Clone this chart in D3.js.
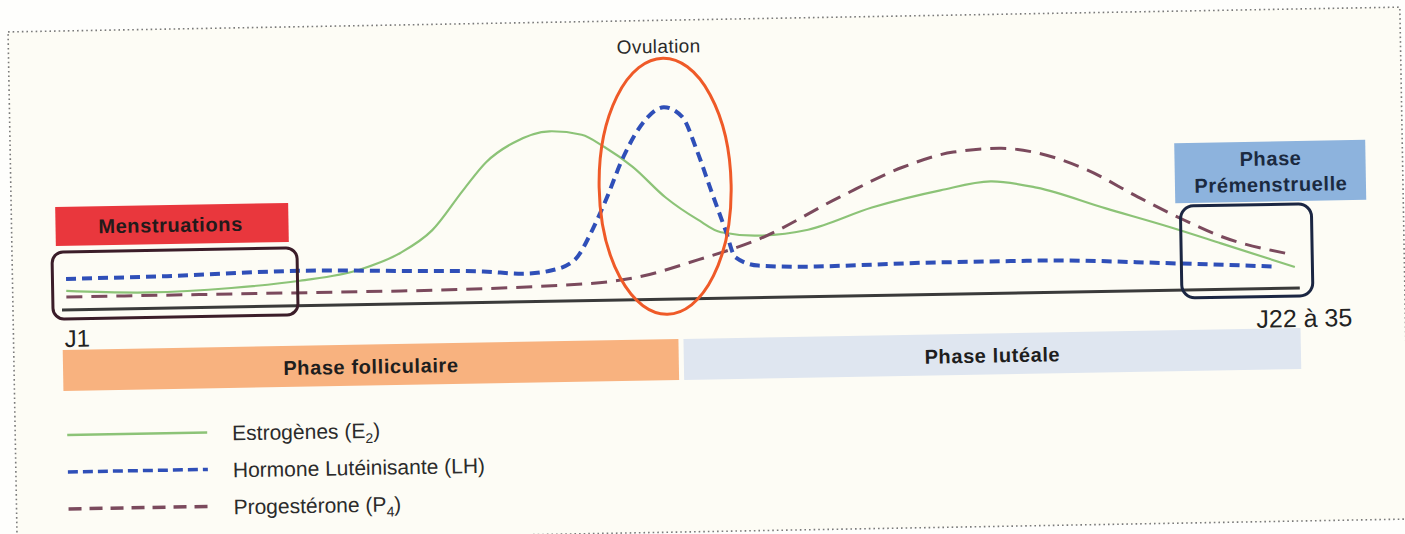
<!DOCTYPE html>
<html>
<head>
<meta charset="utf-8">
<script src="https://cdn.jsdelivr.net/npm/d3@7"></script>
<style>
  body { margin: 0; background: #fefdf9; }
  svg { display: block; font-family: "Liberation Sans", Arial, sans-serif; }
</style>
</head>
<body>
<div id="chart"></div>
<script>
// données (jours du cycle / niveau hormonal relatif)
var e2Days = [1.1, 2.9, 4.7, 6.2, 7.5, 8.4, 9.1, 9.8, 10.3, 10.9, 11.7, 12.4, 12.9, 13.5, 14.2, 14.9, 15.4, 16.2, 17.3, 18.7, 20.2, 21.3, 22.3, 23.8, 25.2, 26.3, 27.9];
var e2Levels = [19, 16, 19, 25, 35, 51, 73, 113, 140, 159, 170, 166, 153, 133, 102, 79, 66, 62, 67, 88, 104, 112, 105, 83, 63, 46, 21];

var lhDays = [1.1, 3.3, 6.2, 8.4, 10.2, 11.1, 11.7, 12.2, 12.6, 12.9, 13.3, 13.8, 14.2, 14.6, 14.9, 15.2, 15.5, 15.7, 16.2, 17.3, 20.2, 22.3, 25.2, 27.4];
var lhLevels = [31, 32, 35, 33, 31, 28, 31, 41, 71, 100, 143, 180, 192, 182, 149, 108, 68, 41, 32, 30, 32, 32, 27, 22];

var p4Days = [1.1, 4.0, 8.4, 12.0, 13.5, 14.9, 16.2, 18.0, 19.4, 20.5, 21.5, 22.3, 23.4, 24.5, 25.5, 26.3, 27.7];
var p4Levels = [13, 13, 13, 16, 22, 39, 58, 99, 128, 142, 145, 140, 122, 94, 70, 53, 35];

var seriesNames = ["Estrogènes (E", "Hormone Lutéinisante (LH)", "Progestérone (P"];
var seriesSubs = ["2", "", "4"];
var phaseNames = ["Phase folliculaire", "Phase lutéale"];
var phaseDays = [[1, 14.43], [14.54, 28]];
var dayLabels = ["J1", "J22 à 35"];

var width = 1405, height = 534;

var svg = d3.select("#chart").append("svg")
  .attr("width", width)
  .attr("height", height);

svg.append("rect").attr("width", width).attr("height", height).attr("fill", "#fefefc");

// la page scannée est un peu penchée
var g = svg.append("g").attr("transform", "rotate(-1.02, 62, 310)");

// cadre pointillé
g.append("rect")
  .attr("x", 13).attr("y", 31)
  .attr("width", 1392).attr("height", 512)
  .attr("fill", "#fdfcf5")
  .attr("stroke", "#7a7a7a")
  .attr("stroke-width", 1.6)
  .attr("stroke-dasharray", "1.6,3");

var x = d3.scaleLinear().domain([1, 28]).range([62, 1300]);
var y = d3.scaleLinear().domain([0, 200]).range([310, 110]);

// barres des phases
var phaseColors = ["#f8b27f", "#dfe6f0"];
phaseDays.forEach(function (p, i) {
  g.append("rect")
    .attr("x", x(p[0]))
    .attr("y", 350)
    .attr("width", x(p[1]) - x(p[0]))
    .attr("height", 41)
    .attr("fill", phaseColors[i]);
  g.append("text")
    .attr("x", (x(p[0]) + x(p[1])) / 2)
    .attr("y", 372)
    .attr("dy", "0.35em")
    .attr("text-anchor", "middle")
    .attr("font-size", 20)
    .attr("font-weight", "bold")
    .attr("letter-spacing", 0.6)
    .attr("fill", "#1e1e1e")
    .text(phaseNames[i]);
});

// Menstruations
g.append("rect")
  .attr("x", 57).attr("y", 207).attr("width", 233).attr("height", 39)
  .attr("fill", "#e9373d");
g.append("text")
  .attr("x", 172).attr("y", 227).attr("dy", "0.35em")
  .attr("text-anchor", "middle").attr("font-size", 20).attr("font-weight", "bold")
  .attr("letter-spacing", 0.6)
  .attr("fill", "#231a1a")
  .text("Menstruations");

// Phase Prémenstruelle
g.append("rect")
  .attr("x", 1177).attr("y", 163).attr("width", 191).attr("height", 60)
  .attr("fill", "#8db3dd");
g.append("text")
  .attr("x", 1273).attr("y", 180).attr("dy", "0.35em")
  .attr("text-anchor", "middle").attr("font-size", 20).attr("font-weight", "bold")
  .attr("letter-spacing", 0.6)
  .attr("fill", "#1b2a40")
  .text("Phase");
g.append("text")
  .attr("x", 1273).attr("y", 206).attr("dy", "0.35em")
  .attr("text-anchor", "middle").attr("font-size", 20).attr("font-weight", "bold")
  .attr("letter-spacing", 0.6)
  .attr("fill", "#1b2a40")
  .text("Prémenstruelle");

// axe des jours
g.append("line")
  .attr("x1", x(1)).attr("x2", x(28))
  .attr("y1", y(0)).attr("y2", y(0))
  .attr("stroke", "#3a3a3a").attr("stroke-width", 3);

g.append("text").attr("x", 64).attr("y", 347)
  .attr("font-size", 24).attr("fill", "#222").text(dayLabels[0]);
g.append("text").attr("x", 1256).attr("y", 349)
  .attr("font-size", 25).attr("fill", "#222").text(dayLabels[1]);

// courbes
var line = d3.line()
  .x(function (d) { return x(d[0]); })
  .y(function (d) { return y(d[1]); })
  .curve(d3.curveMonotoneX);

var styles = [
  { color: "#8cc377", width: 2.2, dash: null },
  { color: "#2f4fb8", width: 4, dash: "10,6" },
  { color: "#7b4a5d", width: 3, dash: "16,9" },
];
var series = [
  d3.zip(e2Days, e2Levels),
  d3.zip(lhDays, lhLevels),
  d3.zip(p4Days, p4Levels),
];
// ordre de dessin : E2, P4, LH
[0, 2, 1].forEach(function (i) {
  g.append("path")
    .datum(series[i])
    .attr("d", line)
    .attr("fill", "none")
    .attr("stroke", styles[i].color)
    .attr("stroke-width", styles[i].width)
    .attr("stroke-dasharray", styles[i].dash);
});

// cadres arrondis
g.append("rect")
  .attr("x", 53).attr("y", 252).attr("width", 245).attr("height", 67)
  .attr("rx", 11)
  .attr("fill", "none").attr("stroke", "#3b1d29").attr("stroke-width", 3);
g.append("rect")
  .attr("x", 1182).attr("y", 226).attr("width", 131).attr("height", 92)
  .attr("rx", 13)
  .attr("fill", "none").attr("stroke", "#1b2642").attr("stroke-width", 3);

// ovulation
g.append("ellipse")
  .attr("cx", x(14.2)).attr("cy", 197)
  .attr("rx", 66).attr("ry", 128)
  .attr("fill", "none").attr("stroke", "#ef5a28").attr("stroke-width", 3);
g.append("text")
  .attr("x", x(14.2) - 4).attr("y", 57).attr("dy", "0.35em")
  .attr("text-anchor", "middle").attr("font-size", 19).attr("fill", "#2a2a2a")
  .attr("letter-spacing", 0.4)
  .text("Ovulation");

// légende
var legendY = [435, 472, 509];
styles.forEach(function (s, i) {
  g.append("line")
    .attr("x1", 65).attr("x2", 205)
    .attr("y1", legendY[i]).attr("y2", legendY[i])
    .attr("stroke", s.color).attr("stroke-width", i === 0 ? 2.5 : 3.5)
    .attr("stroke-dasharray", i === 1 ? "10,5" : (i === 2 ? "13,8" : null));
  var t = g.append("text")
    .attr("x", 230).attr("y", legendY[i] + 1).attr("dy", "0.35em")
    .attr("font-size", 21).attr("fill", "#2b2b2b")
    .text(seriesNames[i]);
  if (seriesSubs[i]) {
    t.append("tspan").attr("font-size", 14).attr("dy", 5).text(seriesSubs[i]);
    t.append("tspan").attr("dy", -5).text(")");
  }
});
</script>
</body>
</html>
